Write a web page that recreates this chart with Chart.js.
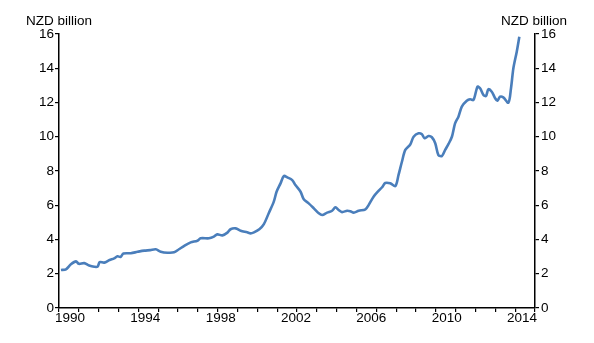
<!DOCTYPE html>
<html><head><meta charset="utf-8">
<script src="https://cdn.jsdelivr.net/npm/chart.js@4"></script>
<style>
html,body{margin:0;padding:0;background:#fff;}
#wrap{position:relative;width:594px;height:343px;}
canvas{display:block;}
.unit{position:absolute;top:13px;font:13.5px "Liberation Sans",Arial,sans-serif;color:#000;white-space:nowrap;line-height:16px;}
</style></head><body>
<div id="wrap"><canvas id="c" width="594" height="343"></canvas>
<div class="unit" style="left:26px">NZD billion</div>
<div class="unit" style="left:501px">NZD billion</div>
</div>
<script>
const years = [
1990.10,1990.35,1990.60,1990.86,1991.00,1991.27,1991.52,1991.78,1991.95,1992.05,
1992.28,1992.55,1992.78,1992.95,1993.10,1993.25,1993.62,1993.96,1994.30,1994.60,
1994.88,1995.13,1995.47,1995.80,1996.05,1996.30,1996.64,1996.98,1997.14,1997.56,
1997.81,1997.98,1998.24,1998.49,1998.65,1998.91,1999.16,1999.49,1999.66,1999.83,
2000.10,2000.33,2000.58,2000.83,2000.97,2001.17,2001.34,2001.51,2001.76,2001.92,
2002.18,2002.34,2002.59,2002.85,2003.10,2003.27,2003.52,2003.77,2003.94,2004.10,
2004.27,2004.53,2004.69,2004.86,2005.11,2005.45,2005.61,2005.86,2006.12,2006.29,
2006.45,2006.70,2006.96,2007.12,2007.29,2007.46,2007.71,2007.88,2008.13,2008.30,
2008.43,2008.63,2008.80,2008.97,2009.13,2009.31,2009.47,2009.64,2009.81,2009.97,
2010.14,2010.31,2010.56,2010.73,2010.90,2011.10,2011.23,2011.40,2011.53,2011.65,
2011.82,2011.99,2012.10,2012.24,2012.40,2012.66,2012.79,2012.91,2013.08,2013.21
];
const values = [
2.22,2.26,2.55,2.72,2.58,2.62,2.48,2.41,2.42,2.68,
2.65,2.80,2.90,3.02,2.98,3.18,3.20,3.28,3.35,3.38,
3.43,3.29,3.23,3.25,3.43,3.62,3.83,3.93,4.07,4.07,
4.17,4.30,4.24,4.40,4.60,4.65,4.51,4.42,4.36,4.42,
4.60,4.90,5.55,6.21,6.79,7.28,7.71,7.63,7.47,7.18,
6.79,6.35,6.11,5.82,5.53,5.43,5.57,5.68,5.88,5.72,
5.60,5.68,5.65,5.57,5.68,5.76,6.01,6.50,6.85,7.05,
7.30,7.28,7.12,7.77,8.54,9.23,9.55,10.00,10.20,10.14,
9.91,10.04,9.97,9.62,8.93,8.88,9.23,9.58,10.00,10.78,
11.17,11.76,12.10,12.19,12.15,12.92,12.83,12.44,12.38,12.77,
12.63,12.25,12.10,12.34,12.30,11.99,12.83,14.00,14.97,15.84
];
const yTickValues = [0,2,4,6,8,10,12,14,16];
const xTickYears = [1990,1991,1992,1993,1994,1995,1996,1997,1998,1999,2000,2001,2002,2003,2004,2005,2006,2007,2008,2009,2010,2011,2012,2013,2014];
const xLabelYears = [1990,1994,1998,2002,2006,2010,2014];

const FONT = {family:'"Liberation Sans", Arial, sans-serif', size:13.5, lineHeight:1};
const BLACK = '#000';

const yAxis = (pos) => ({
  type:'linear', position:pos, min:0, max:16,
  afterBuildTicks: a => { a.ticks = yTickValues.map(v => ({value:v})); },
  afterFit: a => { a.width = pos === 'left' ? 59 : 59; },
  grid:{display:true, drawOnChartArea:false, drawTicks:true, tickLength:4, color:BLACK, lineWidth:1.2},
  border:{display:true, color:BLACK, width:1.5},
  ticks:{color:BLACK, font:FONT, padding: pos === 'left' ? 1 : 2}
});

new Chart(document.getElementById('c'), {
  type:'line',
  data:{datasets:[{
    data: years.map((y,i) => ({x:y, y:values[i]})),
    borderColor:'#4a7ebb', borderWidth:2.6, pointRadius:0, tension:0.3, fill:false
  }]},
  options:{
    responsive:false, animation:false, devicePixelRatio:1,
    layout:{padding:{top:34, bottom:0, left:0, right:0}},
    plugins:{legend:{display:false}, tooltip:{enabled:false}},
    scales:{
      x:{
        type:'linear', position:'bottom', min:1990, max:2014, weight:0,
        afterBuildTicks: a => { a.ticks = xTickYears.map(v => ({value:v})); },
        afterFit: a => { a.height = 4; },
        grid:{display:true, drawOnChartArea:false, drawTicks:true, tickLength:4, color:BLACK, lineWidth:1.2},
        border:{display:true, color:BLACK, width:1.5},
        ticks:{display:false}
      },
      xl:{
        type:'linear', position:'bottom', min:1989.416, max:2014.691, weight:1,
        afterBuildTicks: a => { a.ticks = xLabelYears.map(v => ({value:v})); },
        afterFit: a => { a.height = 31; },
        grid:{display:false, drawTicks:false},
        border:{display:false},
        ticks:{color:BLACK, font:FONT, padding:0, maxRotation:0, autoSkip:false, callback: v => String(v)}
      },
      y: yAxis('left'),
      y2: yAxis('right')
    }
  }
});
</script>
</body></html>
